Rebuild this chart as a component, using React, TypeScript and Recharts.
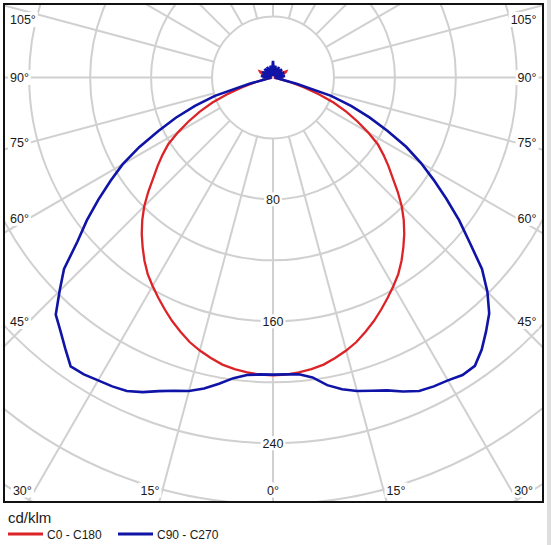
import React from 'react';
import { RadarChart, Radar, PolarGrid, PolarAngleAxis, PolarRadiusAxis } from 'recharts';

// ---- data (cd/klm), gamma measured from the downward vertical, 2.5° steps ----
const gammaAngles = [
  0, 2.5, 5, 7.5, 10, 12.5, 15, 17.5, 20, 22.5, 25, 27.5, 30, 32.5, 35, 37.5, 40, 42.5, 45, 47.5,
  50, 52.5, 55, 57.5, 60, 62.5, 65, 67.5, 70, 72.5, 75, 77.5, 80, 82.5, 85, 87.5, 90, 92.5, 95, 97.5,
  100, 102.5, 105, 107.5, 110, 112.5, 115, 117.5, 120, 122.5, 125, 127.5, 130, 132.5, 135, 137.5,
  140, 142.5, 145, 147.5, 150, 152.5, 155, 157.5, 160, 162.5, 165, 167.5, 170, 172.5, 175, 177.5,
  180, 182.5, 185, 187.5, 190, 192.5, 195, 197.5, 200, 202.5, 205, 207.5, 210, 212.5, 215, 217.5,
  220, 222.5, 225, 227.5, 230, 232.5, 235, 237.5, 240, 242.5, 245, 247.5, 250, 252.5, 255, 257.5,
  260, 262.5, 265, 267.5, 270, 272.5, 275, 277.5, 280, 282.5, 285, 287.5, 290, 292.5, 295, 297.5,
  300, 302.5, 305, 307.5, 310, 312.5, 315, 317.5, 320, 322.5, 325, 327.5, 330, 332.5, 335, 337.5,
  340, 342.5, 345, 347.5, 350, 352.5, 355, 357.5,
];

const c0c180 = [
  195.5, 195.2, 194.2, 193, 191.3, 188.5, 185.5, 182, 177.5, 173, 168, 163, 158, 153, 147, 140.5, 134, 127, 119.5, 111,
  102.5, 95.5, 88.5, 81.5, 72, 62.5, 53, 43, 32, 21.5, 12, 5, 2, 1, 0.5, 1, 1.5, 2, 1, 2.5,
  3, 2, 4, 6, 8, 9, 9.5, 7, 3, 1.5, 2, 1, 2, 1, 1.5, 1,
  2, 1, 1.5, 1, 2, 1, 1.5, 1, 2, 1, 1.5, 1, 2, 1.5, 2, 2,
  3, 2, 2, 1.5, 2, 1, 1.5, 1, 2, 1, 1.5, 1, 2, 1, 1.5, 1,
  2, 1, 1.5, 1, 2, 1, 2, 1.5, 3, 7, 9.5, 9, 8, 6, 4, 2,
  3, 2.5, 1, 2, 1.5, 1, 0.5, 1, 2, 5, 12, 21.5, 32, 43, 53, 62.5,
  72, 81.5, 88.5, 95.5, 102.5, 111, 119.5, 127, 134, 140.5, 147, 153, 158, 163, 168, 173,
  177.5, 182, 185.5, 188.5, 191.3, 193, 194.2, 195.2,
];

const c90c270 = [
  195, 195, 195.5, 198.5, 205, 209.5, 213, 215.5, 218.5, 223, 227, 228.5, 229.5, 231.5, 231, 225, 217.5, 210, 199, 186,
  168.5, 154, 139, 125, 112, 98.5, 83, 68.5, 54.5, 40, 16, 5, 3, 1, 6, 3, 7, 1, 4, 8,
  3, 6, 1, 7, 3, 4, 8, 1, 6, 3, 7, 1, 4, 8, 3, 6,
  1, 7, 3, 4, 8, 1, 6, 3, 7, 1, 4, 8, 3, 6, 4, 7,
  11, 7, 3, 6, 4, 8, 1, 6, 3, 7, 4, 1, 8, 3, 6, 1,
  7, 4, 8, 3, 6, 1, 7, 3, 4, 8, 1, 6, 3, 7, 4, 1,
  6, 8, 3, 4, 7, 3, 6, 1, 3, 5, 16, 40, 54.5, 69, 83, 99,
  114, 126.5, 140, 154, 167.5, 186, 198, 211, 217, 224, 231.5, 231, 229.5, 228.5, 227, 223.5,
  219, 215.5, 213, 209, 204, 199, 196, 195,
];

const ringTicks = [0, 40, 80, 120, 160, 200, 240, 280, 320, 360];
const ringLabelValues = [80, 160, 240];
const spokeAngles = [0, 15, 30, 45, 60, 75, 90, 105, 120, 135, 150, 165, 180, 195, 210, 225, 240, 255, 270, 285, 300, 315, 330, 345];
const sideLabelAngles = [105, 90, 75, 60, 45];
const bottomLabelAngles = [30, 15];
const unitLabel = 'cd/klm';
const seriesNames = ['C0 - C180', 'C90 - C270'];
const seriesKeys = ['c0', 'c90'];
const seriesColors = ['#dc2327', '#0f14a6'];

const rows = gammaAngles.map((g, i) => ({ gamma: g, c0: c0c180[i], c90: c90c270[i] }));

// ---- layout ----
const FONT = '"Liberation Sans", Arial, sans-serif';
const GRID = '#d0d0d0';
const BOX_L = 3;
const BOX_T = 3;
const BOX_W = 541;
const BOX_H = 500;
const BORDER = 2;
const IN_L = BOX_L + BORDER;
const IN_T = BOX_T + BORDER;
const W = BOX_W - 2 * BORDER;
const H = BOX_H - 2 * BORDER;
const CX = 268; // chart coords
const CY = 72.5;
const MAXV = 360;
const OUTER = 548.6;
const R_INNER_SPOKE = (OUTER * 40) / MAXV;
const PX = IN_L + CX; // page coords
const PY = IN_T + CY;

const toRecharts = (g: number) => -90 + g;

const textW = (s: string) => {
  let w = 0;
  for (const ch of s) w += ch === '°' ? 5 : 6.95;
  return w;
};

const RingTick = (props: any) => {
  const { x, y, payload } = props;
  if (!ringLabelValues.includes(payload?.value)) return <g />;
  const s = String(payload.value);
  const w = textW(s) + 4;
  return (
    <g>
      <rect x={x - w / 2} y={y - 7} width={w} height={14} fill="#fff" />
      <text x={x} y={y + 4.5} textAnchor="middle" fontSize={12.5} fontFamily={FONT} fill="#1a1a1a">
        {s}
      </text>
    </g>
  );
};

const Label = ({ x, y, anchor, text }: { x: number; y: number; anchor: 'start' | 'end' | 'middle'; text: string }) => {
  const w = textW(text);
  const left = anchor === 'start' ? x : anchor === 'end' ? x - w : x - w / 2;
  return (
    <g>
      <rect x={left - 2} y={y - 7.5} width={w + 4} height={15} fill="#fff" />
      <text x={x} y={y + 4.5} textAnchor={anchor} fontSize={12.5} fontFamily={FONT} fill="#1a1a1a">
        {text}
      </text>
    </g>
  );
};

const AngleLabels = () => {
  const items: React.ReactNode[] = [];
  sideLabelAngles.forEach((a) => {
    const t = (a * Math.PI) / 180;
    const y = Math.max(19.5, PY + (244 * Math.cos(t)) / Math.sin(t));
    items.push(<Label key={`l${a}`} x={10} y={y} anchor="start" text={`${a}°`} />);
    items.push(<Label key={`r${a}`} x={536.5} y={y} anchor="end" text={`${a}°`} />);
  });
  const by = 490;
  bottomLabelAngles.forEach((a) => {
    const t = (a * Math.PI) / 180;
    const dx = (by - PY) * Math.tan(t) + 3;
    items.push(<Label key={`bl${a}`} x={PX - dx} y={by} anchor="end" text={`${a}°`} />);
    items.push(<Label key={`br${a}`} x={PX + dx} y={by} anchor="start" text={`${a}°`} />);
  });
  items.push(<Label key="b0" x={PX} y={by} anchor="middle" text="0°" />);
  return <g>{items}</g>;
};

export default function App() {
  return (
    <div style={{ position: 'absolute', left: 0, top: 0, width: 551, height: 545, background: '#fff', overflow: 'hidden' }}>
      <div style={{ position: 'absolute', left: 547, top: 0, width: 4, height: 545, background: '#dedede' }} />
      <div
        style={{
          position: 'absolute',
          left: BOX_L,
          top: BOX_T,
          width: BOX_W,
          height: BOX_H,
          border: `${BORDER}px solid #111`,
          boxSizing: 'border-box',
          overflow: 'hidden',
        }}
      >
        <div style={{ position: 'absolute', left: 0, top: 0 }}>
          <RadarChart
            width={W}
            height={H}
            data={rows}
            cx={CX}
            cy={CY}
            innerRadius={R_INNER_SPOKE}
            outerRadius={OUTER}
            startAngle={-90}
            endAngle={270}
            margin={{ top: 0, right: 0, bottom: 0, left: 0 }}
          >
            <PolarGrid
              gridType="circle"
              polarAngles={spokeAngles.map(toRecharts)}
              polarRadius={[]}
              stroke={GRID}
              strokeWidth={2}
            />
          </RadarChart>
        </div>
        <div style={{ position: 'absolute', left: 0, top: 0 }}>
          <RadarChart
            width={W}
            height={H}
            data={rows}
            cx={CX}
            cy={CY}
            outerRadius={OUTER}
            startAngle={-90}
            endAngle={270}
            margin={{ top: 0, right: 0, bottom: 0, left: 0 }}
          >
            <PolarGrid gridType="circle" radialLines={false} stroke={GRID} strokeWidth={2} />
            <PolarAngleAxis dataKey="gamma" type="number" domain={[0, 360]} tick={false} axisLine={false} tickLine={false} />
            <PolarRadiusAxis
              type="number"
              domain={[0, MAXV]}
              ticks={ringTicks as any}
              tickCount={10}
              angle={-90}
              axisLine={false}
              tickLine={false}
              tick={RingTick}
            />
            {seriesKeys.map((k, i) => (
              <Radar
                key={k}
                name={seriesNames[i]}
                dataKey={k}
                stroke={seriesColors[i]}
                strokeWidth={i === 0 ? 2.3 : 2.6}
                fill="none"
                fillOpacity={0}
                dot={false}
                isAnimationActive={false}
              />
            ))}
          </RadarChart>
        </div>
      </div>
      <svg width={551} height={545} style={{ position: 'absolute', left: 0, top: 0, pointerEvents: 'none' }}>
        <AngleLabels />
        <text x={8} y={523} fontSize={15} fontFamily={FONT} fill="#1a1a1a">
          {unitLabel}
        </text>
        {seriesNames.map((n, i) => {
          const x0 = i === 0 ? 8 : 118;
          return (
            <g key={n}>
              <line x1={x0} y1={534} x2={x0 + 35} y2={534} stroke={seriesColors[i]} strokeWidth={3} />
              <text x={x0 + 39} y={538.5} fontSize={12} fontFamily={FONT} fill="#1a1a1a">
                {n}
              </text>
            </g>
          );
        })}
      </svg>
    </div>
  );
}
